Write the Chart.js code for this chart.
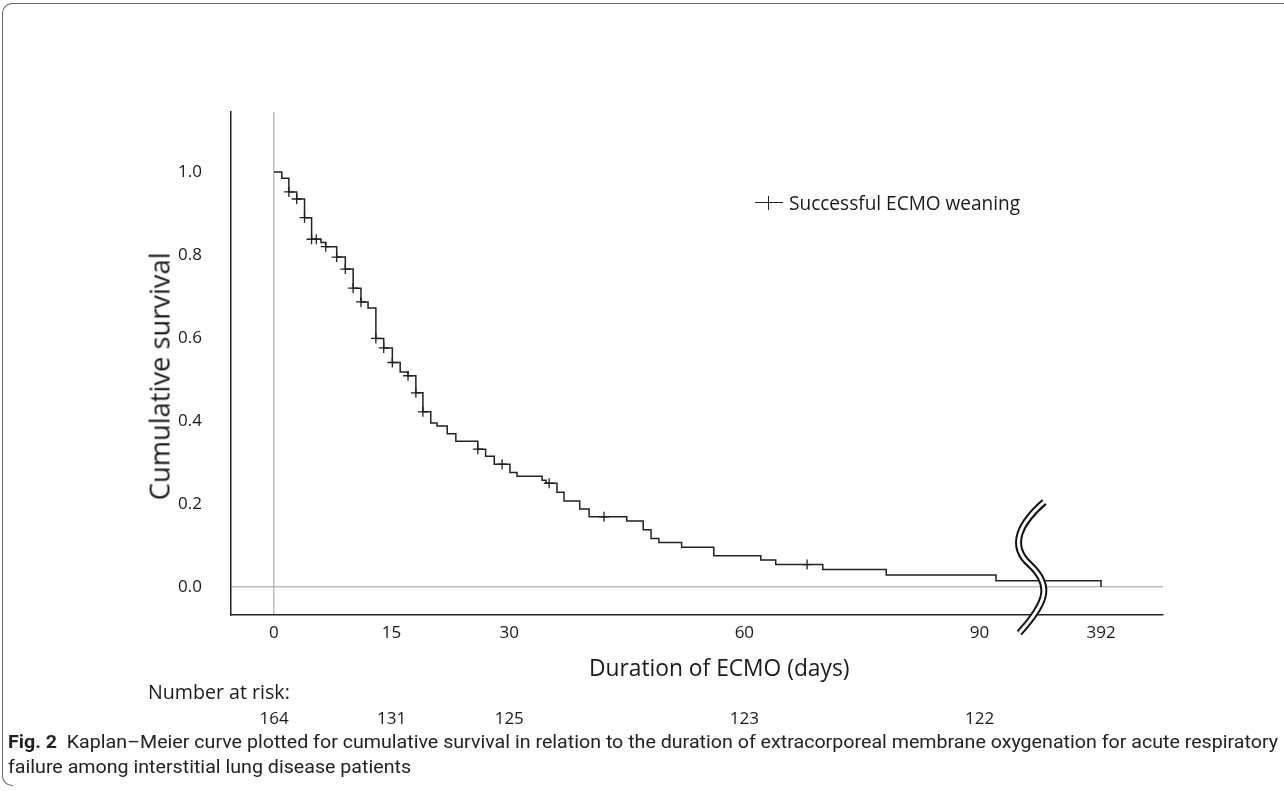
<!DOCTYPE html>
<html>
<head>
<meta charset="utf-8">
<script src="https://cdn.jsdelivr.net/npm/chart.js@4.4.0/dist/chart.umd.min.js"></script>
<style>
html, body { margin: 0; padding: 0; background: #fff; }
#wrap { position: relative; width: 1284px; height: 791px; overflow: hidden; font-family: 'Open Sans', 'Noto Sans', sans-serif; color: #1a1a1a; }
#chart { position: absolute; left: 0; top: 0; }
.txt { position: absolute; white-space: nowrap; line-height: 1.2; }
#frameTop { position: absolute; left: 2px; top: 3px; width: 1400px; height: 772px; border-left: 1px solid #666; border-top: 1px solid #666; border-top-left-radius: 10px; }
#frameBot { position: absolute; left: 2px; top: 775px; width: 10px; height: 10px; border-left: 1px solid #666; border-bottom: 1px solid #666; border-bottom-left-radius: 10px; border-top: none; }
#legend { position: absolute; left: 755px; top: 203px; }
#legend .h { position: absolute; left: 0; top: -1px; width: 28px; height: 0; border-top: 1.5px solid #222; }
#legend .v { position: absolute; left: 13px; top: -7px; width: 0; height: 14px; border-left: 1.5px solid #222; }
.cap { font-family: Roboto, 'Noto Sans', sans-serif; font-size: 18px; transform-origin: 0 50%; color: #222; }
</style>
</head>
<body>
<div id="wrap">
  <div id="frameTop"></div>
  <div id="frameBot"></div>
  <canvas id="chart" width="1284" height="791"></canvas>
  <div id="legend"><div class="h"></div><div class="v"></div></div>
  <div class="txt" id="legendText" data-w="231" style="font-size:17px">Successful ECMO weaning</div>
  <div class="txt" id="yTitle" data-w="248" style="font-size:24px">Cumulative survival</div>
  <div class="txt" id="xTitle" data-w="261" style="font-size:24px">Duration of ECMO (days)</div>
  <div class="txt" id="riskTitle" data-w="142" style="font-size:17px">Number at risk:</div>
  <div class="txt cap" id="cap1" data-w="1270" data-mode="x"><b>Fig. 2</b>&nbsp; Kaplan–Meier curve plotted for cumulative survival in relation to the duration of extracorporeal membrane oxygenation for acute respiratory</div>
  <div class="txt cap" id="cap2">failure among interstitial lung disease patients</div>
</div>
<script>
// Kaplan-Meier steps: day of event, survival after it
const stepDays = [0, 1.0, 1.9, 2.9, 3.9, 4.8, 6.0, 6.6, 8.0, 9.1, 10.1, 11.1, 12.0, 13.0, 14.0, 15.1, 16.1, 17.1, 18.1, 19.0,
    20.0, 20.8, 22.1, 23.2, 26.0, 27.0, 28.1, 30.1, 31.0, 34.2, 34.7, 36.1, 37.0, 39.0, 40.2,
    45.0, 47.1, 48.1, 49.1, 52.0, 56.1, 62.1, 64.0, 70.0, 78.1, 92.1, 392];
const stepSurvival = [1.0, 0.985, 0.952, 0.935, 0.89, 0.838, 0.83, 0.82, 0.795, 0.766, 0.72, 0.687, 0.672, 0.599, 0.576, 0.541, 0.518, 0.509, 0.468, 0.422,
    0.395, 0.388, 0.369, 0.351, 0.332, 0.315, 0.296, 0.276, 0.267, 0.257, 0.25, 0.228, 0.207, 0.188, 0.169,
    0.159, 0.138, 0.117, 0.107, 0.096, 0.075, 0.065, 0.054, 0.042, 0.029, 0.015, 0.0];
// censored (successful weaning) times
const censorDays = [1.9, 2.9, 3.9, 4.8, 5.4, 6.6, 8.0, 9.1, 10.1, 11.1, 13.0, 14.0, 15.1, 17.1, 18.1, 19.0, 26.0, 29.1, 35.1, 42.1, 68.0];

const xTickDays = [0, 15, 30, 60, 90, 392];
const xTickLabels = ['0', '15', '30', '60', '90', '392'];
const yTickValues = [0, 0.2, 0.4, 0.6, 0.8, 1.0];
const riskDays = [0, 15, 30, 60, 90];
const riskCounts = [164, 131, 125, 123, 122];

// broken axis: everything after the break is drawn at the far tick
var BREAK_DAY = 95;
var FAR_POS = 105.5;
var SQUIGGLE_POS = 96.6;

function axisPos(d) { return d > BREAK_DAY ? FAR_POS : d; }

function survivalAt(t) {
    var s = stepSurvival[0];
    for (var i = 0; i < stepDays.length; i++) {
        if (stepDays[i] <= t) s = stepSurvival[i];
    }
    return s;
}

var font = "'Open Sans', 'Noto Sans', sans-serif";

var squiggle = {
    id: 'squiggle',
    afterDraw: function (chart) {
        var c = chart.ctx;
        var cx = chart.scales.x.getPixelForValue(SQUIGGLE_POS);
        var cy = chart.scales.y.getPixelForValue(0);
        c.save();
        c.beginPath();
        c.moveTo(cx + 13, cy - 85);
        c.bezierCurveTo(cx - 10, cy - 65, cx - 24, cy - 42, cx - 1, cy - 22);
        c.bezierCurveTo(cx + 20, cy - 2, cx + 17, cy + 14, cx - 12, cy + 46);
        c.lineCap = 'butt';
        c.strokeStyle = '#111';
        c.lineWidth = 7;
        c.stroke();
        c.strokeStyle = '#fff';
        c.lineWidth = 3;
        c.stroke();
        c.restore();
    }
};

var curvePts = stepDays.map(function (d, i) { return { x: axisPos(d), y: stepSurvival[i] }; });
var censorPts = censorDays.map(function (d) { return { x: axisPos(d), y: survivalAt(d) }; });

var chart = new Chart(document.getElementById('chart').getContext('2d'), {
    type: 'line',
    data: {
        datasets: [
            { data: curvePts, stepped: 'before', borderColor: '#222', borderWidth: 1.5, pointRadius: 0, fill: false },
            { type: 'scatter', data: censorPts, pointStyle: 'cross', pointRadius: 5, borderColor: '#222', borderWidth: 1.3, showLine: false }
        ]
    },
    options: {
        responsive: false,
        animation: false,
        events: [],
        layout: { padding: { left: 0, top: 112, right: 121, bottom: 126 } },
        plugins: { legend: { display: false }, tooltip: { enabled: false } },
        scales: {
            x: {
                type: 'linear', min: -5.48, max: 113.4,
                afterBuildTicks: function (s) { s.ticks = xTickDays.map(function (d) { return { value: axisPos(d) }; }); },
                afterFit: function (s) { s.height = 50; },
                ticks: { callback: function (v, i) { return xTickLabels[i]; }, padding: 8, maxRotation: 0, autoSkip: false, color: '#1a1a1a', font: { family: font, size: 17 } },
                grid: { drawTicks: false, lineWidth: 1.5, color: function (ctx) { return ctx.tick && ctx.tick.value === 0 ? '#bdbdbd' : 'rgba(0,0,0,0)'; } },
                border: { color: '#222', width: 1.5 }
            },
            y: {
                type: 'linear', min: -0.0675, max: 1.1446,
                afterBuildTicks: function (s) { s.ticks = yTickValues.map(function (v) { return { value: v }; }); },
                afterFit: function (s) { s.width = 231; },
                ticks: { callback: function (v) { return v.toFixed(1); }, padding: 29, color: '#1a1a1a', font: { family: font, size: 17 } },
                grid: { drawTicks: false, lineWidth: 1.5, color: function (ctx) { return ctx.tick && ctx.tick.value === 0 ? '#bdbdbd' : 'rgba(0,0,0,0)'; } },
                border: { color: '#222', width: 1.5 }
            }
        }
    },
    plugins: [squiggle]
});

// text sizing and placement
document.querySelectorAll('[data-w]').forEach(function (el) {
    var w = +el.dataset.w;
    if (el.dataset.mode === 'x') {
        el.dataset.k = w / el.offsetWidth;
    } else {
        var fs = parseFloat(getComputedStyle(el).fontSize);
        el.style.fontSize = (fs * w / el.offsetWidth) + 'px';
    }
});

function place(id, cx, cy) {
    var el = document.getElementById(id);
    el.style.left = (cx - el.offsetWidth / 2) + 'px';
    el.style.top = (cy - el.offsetHeight / 2) + 'px';
    return el;
}
function placeLeft(id, x, cy) {
    var el = document.getElementById(id);
    el.style.left = x + 'px';
    el.style.top = (cy - el.offsetHeight / 2) + 'px';
    return el;
}

placeLeft('legendText', 789, 203);
place('yTitle', 160, 376).style.transform = 'rotate(-90deg)';
placeLeft('xTitle', 589, 667);
placeLeft('riskTitle', 148, 692);
var k = document.getElementById('cap1').dataset.k;
placeLeft('cap1', 8, 742).style.transform = 'scaleX(' + k + ')';
placeLeft('cap2', 8, 767).style.transform = 'scaleX(' + k + ')';

var xs = chart.scales.x;
riskDays.forEach(function (d, i) {
    var el = document.createElement('div');
    el.className = 'txt';
    el.style.fontSize = '17px';
    el.textContent = riskCounts[i];
    document.getElementById('wrap').appendChild(el);
    el.id = 'risk' + i;
    place(el.id, xs.getPixelForValue(axisPos(d)), 718);
});
</script>
</body>
</html>
